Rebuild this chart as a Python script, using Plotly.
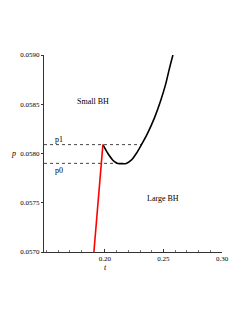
import plotly.graph_objects as go

# Data
red_t = [0.1906, 0.1983]
red_p = [0.05700, 0.05809]

black_t = [0.1983, 0.2026, 0.2068, 0.2097, 0.2111, 0.2145, 0.2182, 0.2225,
           0.2268, 0.2310, 0.2362, 0.2425, 0.2476, 0.2519, 0.2553, 0.2581]
black_p = [0.05809, 0.058000, 0.057932, 0.057906, 0.057899, 0.057897, 0.057899,
           0.057932, 0.058000, 0.058085, 0.058199, 0.058367, 0.058535, 0.058704,
           0.058872, 0.059000]

p1 = 0.05809
p0 = 0.05790
p1_t_end = 0.2315
p0_t_end = 0.2111

x_range = [0.148, 0.30]
y_range = [0.0570, 0.0590]
x_ticks = [0.20, 0.25, 0.30]
x_ticklabels = ["0.20", "0.25", "0.30"]
y_ticks = [0.0570, 0.0575, 0.0580, 0.0585, 0.0590]
y_ticklabels = ["0.0570", "0.0575", "0.0580", "0.0585", "0.0590"]

font = "Liberation Serif, Times New Roman, serif"
txt = "#000000"

fig = go.Figure()
fig.add_trace(go.Scatter(x=[x_range[0], p1_t_end], y=[p1, p1], mode="lines",
                         line=dict(color="#444444", width=1, dash="dot")))
fig.add_trace(go.Scatter(x=[x_range[0], p0_t_end], y=[p0, p0], mode="lines",
                         line=dict(color="#444444", width=1, dash="dot")))
fig.add_trace(go.Scatter(x=black_t, y=black_p, mode="lines",
                         line=dict(color="black", width=1.6, shape="spline", smoothing=0.8)))
fig.add_trace(go.Scatter(x=red_t, y=red_p, mode="lines",
                         line=dict(color="red", width=1.6)))

ann = [
    dict(text="Small BH", x=0.1897, y=0.058525),
    dict(text="Large BH", x=0.2496, y=0.057545),
    dict(text="p1", x=0.1605, y=0.058140),
    dict(text="p0", x=0.1605, y=0.057828),
]
for a in ann:
    fig.add_annotation(text=a["text"], x=a["x"], y=a["y"], xref="x", yref="y",
                       xanchor="center", yanchor="middle",
                       showarrow=False, font=dict(family=font, size=8, color=txt))
fig.add_annotation(text="<i>p</i>", x=-0.169, y=0.5025, xref="paper", yref="paper",
                   xanchor="center", yanchor="middle",
                   showarrow=False, font=dict(family=font, size=8, color=txt))
fig.add_annotation(text="<i>t</i>", x=0.343, y=-0.081, xref="paper", yref="paper",
                   xanchor="center", yanchor="middle",
                   showarrow=False, font=dict(family=font, size=8, color=txt))

fig.update_layout(
    width=249, height=323,
    margin=dict(l=44, r=27, t=55, b=71),
    plot_bgcolor="white", paper_bgcolor="white",
    showlegend=False,
    font=dict(family=font, size=7, color=txt),
)
fig.update_xaxes(range=x_range, tickvals=x_ticks, ticktext=x_ticklabels, automargin=False,
                 showgrid=False, zeroline=False, showline=True, linecolor="#333333",
                 linewidth=1, ticks="inside", ticklen=3, tickcolor="#333333",
                 minor=dict(dtick=0.01, ticks="inside", ticklen=2, tickcolor="#777777"),
                 tickfont=dict(family=font, size=7, color=txt))
fig.update_yaxes(range=y_range, tickvals=y_ticks, ticktext=y_ticklabels, automargin=False,
                 showgrid=False, zeroline=False, showline=True, linecolor="#333333",
                 linewidth=1, ticks="outside", ticklen=2, tickcolor="#333333",
                 tickfont=dict(family=font, size=7, color=txt))

fig.write_html("out.html", config={"displayModeBar": False},
               post_script="document.body.style.margin='0';")
